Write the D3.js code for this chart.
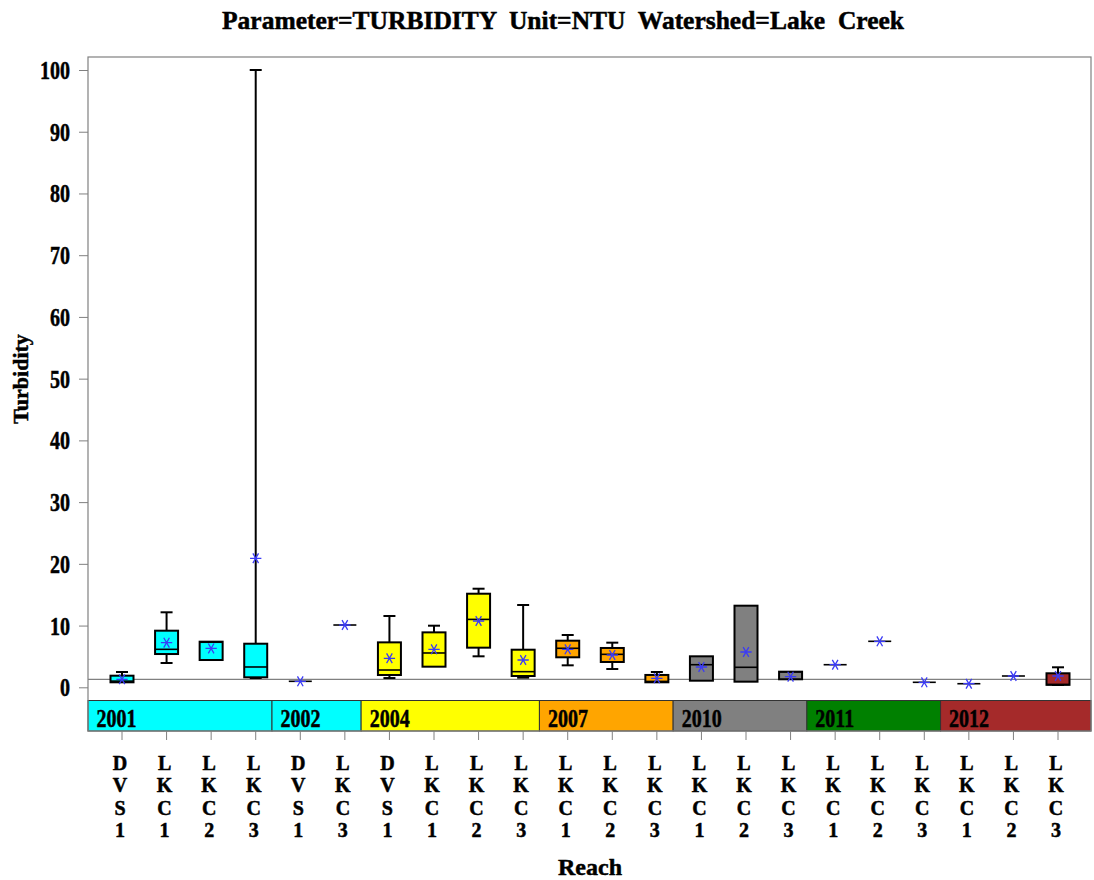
<!DOCTYPE html>
<meta charset="utf-8">
<style>
body { margin: 0; background: #fff; }
text { font-family: "Liberation Serif", "Times New Roman", serif; font-weight: bold; fill: #000; stroke: #000; stroke-width: 0.5px; }
</style>
<body>
<svg width="1094" height="880"></svg>
</body>
<script src="https://d3js.org/d3.v7.min.js"></script>
<script>
// one entry per box, left to right
const years    = ["2001","2001","2001","2001","2002","2002","2004","2004","2004","2004","2007","2007","2007","2010","2010","2010","2011","2011","2011","2012","2012","2012"]
const reaches  = ["DVS1","LKC1","LKC2","LKC3","DVS1","LKC3","DVS1","LKC1","LKC2","LKC3","LKC1","LKC2","LKC3","LKC1","LKC2","LKC3","LKC1","LKC2","LKC3","LKC1","LKC2","LKC3"]
const whiskLo  = [0.81, 3.94, 4.42, 1.5, 0.97, 10.09, 1.5, 3.34, 5.02, 1.56, 3.56, 2.96, 0.81, 1.07, 0.91, 1.3, 3.66, 7.45, 0.81, 0.58, 1.83, 0.37]
const q1       = [0.81, 5.39, 4.42, 1.62, 0.97, 10.09, 1.99, 3.34, 6.42, 1.83, 4.86, 4.1, 0.81, 1.07, 0.91, 1.3, 3.66, 7.45, 0.81, 0.58, 1.83, 0.4]
const median   = [1.0, 6.15, 7.3, 3.29, 0.97, 10.09, 2.8, 5.56, 11.0, 2.53, 6.32, 5.34, 0.95, 3.66, 3.24, 2.5, 3.66, 7.45, 0.81, 0.58, 1.83, 0.45]
const q3       = [1.88, 9.17, 7.39, 7.06, 0.97, 10.09, 7.28, 8.9, 15.16, 6.09, 7.55, 6.37, 2.0, 5.02, 13.22, 2.53, 3.66, 7.45, 0.81, 0.58, 1.83, 2.27]
const whiskHi  = [2.48, 12.15, 7.39, 100, 0.97, 10.09, 11.55, 9.98, 15.97, 13.33, 8.47, 7.23, 2.48, 5.02, 13.22, 2.53, 3.66, 7.45, 0.81, 0.58, 1.83, 3.24]
const means    = [1.3, 7.23, 6.3, 20.9, 0.97, 10.09, 4.7, 6.15, 10.74, 4.42, 6.15, 5.23, 1.46, 3.29, 5.72, 1.72, 3.66, 7.45, 0.81, 0.58, 1.83, 1.83]

const yearList   = ["2001","2002","2004","2007","2010","2011","2012"]
const yearColors = ["#00ffff","#00ffff","#ffff00","#ffa500","#808080","#008000","#a52a2a"]
const yTicks     = [0, 10, 20, 30, 40, 50, 60, 70, 80, 90, 100]
const refLevel   = 1.3

const svg = d3.select("svg")
const pLeft = 88, pRight = 1091, pTop = 57, pBottom = 731
const bandTop = 700.5

const x = d3.scalePoint().domain(d3.range(years.length)).range([122, 1058])
const y = d3.scaleLinear().domain([0, 100]).range([687.3, 70])
const colorOf = d3.scaleOrdinal().domain(yearList).range(yearColors)

// narrow bold text, the original font is condensed
function narrow(sel, tx, ty, sx) {
  return sel.attr("transform", `translate(${tx},${ty}) scale(${sx},1)`)
}

// title
svg.append("text")
  .attr("x", 563).attr("y", 29)
  .attr("text-anchor", "middle")
  .attr("font-size", 25)
  .attr("textLength", 682).attr("lengthAdjust", "spacingAndGlyphs")
  .attr("xml:space", "preserve")
  .text("Parameter=TURBIDITY  Unit=NTU  Watershed=Lake  Creek")

// y axis
const yAxis = svg.append("g")
  .attr("transform", `translate(${pLeft},0)`)
  .call(d3.axisLeft(y).tickValues(yTicks).tickSize(9).tickFormat(d3.format("d")))
yAxis.select(".domain").remove()
yAxis.selectAll(".tick line").attr("stroke", "#808080")
yAxis.selectAll(".tick text").remove()
yAxis.selectAll(".tick").each(function (d) {
  narrow(d3.select(this).append("text"), -18, 8.5, 0.8)
    .attr("text-anchor", "end")
    .attr("font-size", 25)
    .text(d)
})

svg.append("text")
  .attr("transform", "translate(28,379) rotate(-90)")
  .attr("text-anchor", "middle")
  .attr("font-size", 22)
  .text("Turbidity")

// reference line
svg.append("line")
  .attr("x1", pLeft).attr("x2", pRight)
  .attr("y1", y(refLevel)).attr("y2", y(refLevel))
  .attr("stroke", "#808080").attr("stroke-width", 1.2)

// year blocks
const shift = 6
const blocks = yearList.map(yr => {
  const idx = d3.range(years.length).filter(i => years[i] === yr)
  const a = idx[0], b = idx[idx.length - 1]
  const x0 = a === 0 ? pLeft : (x(a - 1) + x(a)) / 2 - shift
  const x1 = b === years.length - 1 ? pRight : (x(b) + x(b + 1)) / 2 - shift
  return {yr, x0, x1}
})
const blk = svg.append("g").selectAll("g").data(blocks).join("g")
blk.append("rect")
  .attr("x", d => d.x0).attr("y", bandTop)
  .attr("width", d => d.x1 - d.x0).attr("height", pBottom - bandTop)
  .attr("fill", d => colorOf(d.yr))
  .attr("stroke", "#333").attr("stroke-width", 1)
blk.each(function (d) {
  narrow(d3.select(this).append("text"), d.x0 + 8.5, 727, 0.8)
    .attr("font-size", 25)
    .text(d.yr)
})

// boxes
const bw = 23, cap = 12
const box = svg.append("g").selectAll("g").data(d3.range(years.length)).join("g")
  .attr("transform", i => `translate(${x(i)},0)`)

box.filter(i => whiskHi[i] > q3[i]).append("line")
  .attr("y1", i => y(q3[i])).attr("y2", i => y(whiskHi[i]))
  .attr("stroke", "#000").attr("stroke-width", 2)
box.filter(i => whiskHi[i] > q3[i]).append("line")
  .attr("x1", -cap / 2).attr("x2", cap / 2)
  .attr("y1", i => y(whiskHi[i])).attr("y2", i => y(whiskHi[i]))
  .attr("stroke", "#000").attr("stroke-width", 2)
box.filter(i => whiskLo[i] < q1[i]).append("line")
  .attr("y1", i => y(q1[i])).attr("y2", i => y(whiskLo[i]))
  .attr("stroke", "#000").attr("stroke-width", 2)
box.filter(i => whiskLo[i] < q1[i]).append("line")
  .attr("x1", -cap / 2).attr("x2", cap / 2)
  .attr("y1", i => y(whiskLo[i])).attr("y2", i => y(whiskLo[i]))
  .attr("stroke", "#000").attr("stroke-width", 2)

box.append("rect")
  .attr("x", -bw / 2).attr("width", bw)
  .attr("y", i => y(q3[i]))
  .attr("height", i => Math.max(0, y(q1[i]) - y(q3[i])))
  .attr("fill", i => colorOf(years[i]))
  .attr("stroke", "#000").attr("stroke-width", 2)

box.append("line")
  .attr("x1", -bw / 2).attr("x2", bw / 2)
  .attr("y1", i => y(median[i])).attr("y2", i => y(median[i]))
  .attr("stroke", "#000").attr("stroke-width", 1.6)

// mean asterisks
const star = d3.symbol().type(d3.symbolAsterisk).size(90)
box.append("path")
  .attr("d", star)
  .attr("transform", i => `translate(0,${y(means[i])}) rotate(90)`)
  .attr("fill", "none")
  .attr("stroke", "#3b3bf5").attr("stroke-width", 1.3)

// x ticks and stacked labels
const xt = svg.append("g").selectAll("g").data(d3.range(years.length)).join("g")
  .attr("transform", i => `translate(${x(i)},0)`)
xt.append("line")
  .attr("y1", pBottom).attr("y2", pBottom + 9)
  .attr("stroke", "#808080")
xt.each(function (i) {
  const g = d3.select(this)
  reaches[i].split("").forEach((ch, k) => {
    g.append("text")
      .attr("x", -2).attr("y", 770 + k * 22.4)
      .attr("text-anchor", "middle")
      .attr("font-size", 20)
      .text(ch)
  })
})

svg.append("text")
  .attr("x", 590).attr("y", 875)
  .attr("text-anchor", "middle")
  .attr("font-size", 24)
  .text("Reach")

// frame
svg.append("rect")
  .attr("x", pLeft).attr("y", pTop)
  .attr("width", pRight - pLeft).attr("height", pBottom - pTop)
  .attr("fill", "none").attr("stroke", "#808080").attr("stroke-width", 1.2)
</script>
